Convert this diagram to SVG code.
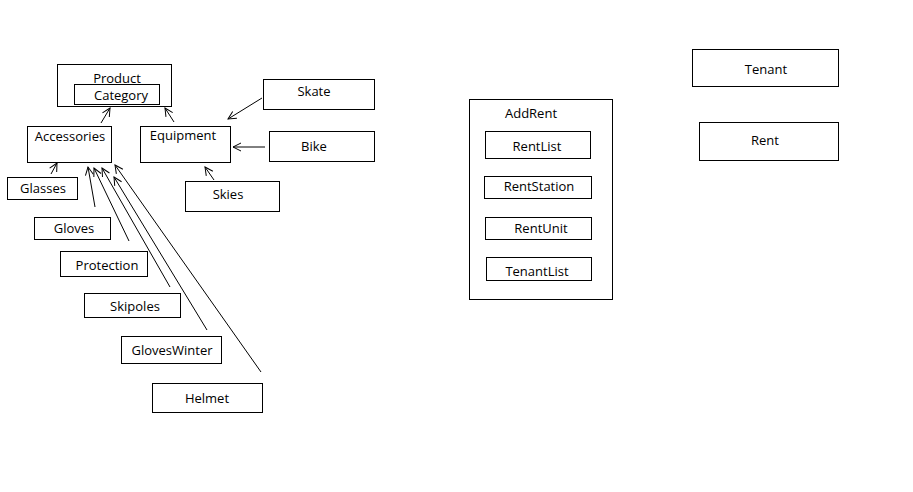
<svg xmlns="http://www.w3.org/2000/svg" width="913" height="492" viewBox="0 0 913 492">
  <style>
    rect { fill: none; stroke: #000; stroke-width: 1; shape-rendering: crispEdges; }
    text { font-family: "Open Sans", "Noto Sans", "DejaVu Sans", sans-serif; font-size: 13px; fill: #000; text-anchor: middle; }
    .edge { stroke: #000; stroke-width: 1; fill: none; marker-end: url(#open); }
  </style>
  <defs>
    <marker id="open" viewBox="-10 -6 12 12" markerWidth="12" markerHeight="12" refX="0" refY="0" orient="auto" markerUnits="userSpaceOnUse">
      <path d="M -8 -4 L 0 0 L -8 4" fill="none" stroke="#000" stroke-width="1"/>
    </marker>
  </defs>
  <rect x="0" y="0" width="913" height="492" style="fill:#fff;stroke:none"/>

  <!-- product hierarchy -->
  <g id="product">
    <rect x="57.5" y="64.5" width="114" height="42"/>
    <text x="117" y="83">Product</text>
  </g>
  <g id="category">
    <rect x="74.5" y="84.5" width="85" height="20"/>
    <text x="121" y="100">Category</text>
  </g>
  <g id="accessories">
    <rect x="27.5" y="126.5" width="84" height="36"/>
    <text x="70" y="141">Accessories</text>
  </g>
  <g id="equipment">
    <rect x="140.5" y="126.5" width="90" height="36"/>
    <text x="183" y="140">Equipment</text>
  </g>
  <g id="skate">
    <rect x="263.5" y="79.5" width="111" height="30"/>
    <text x="314" y="96">Skate</text>
  </g>
  <g id="bike">
    <rect x="269.5" y="131.5" width="105" height="30"/>
    <text x="314" y="151">Bike</text>
  </g>
  <g id="skies">
    <rect x="185.5" y="181.5" width="94" height="30"/>
    <text x="228" y="199">Skies</text>
  </g>
  <g id="glasses">
    <rect x="7.5" y="177.5" width="70" height="22"/>
    <text x="43" y="193">Glasses</text>
  </g>
  <g id="gloves">
    <rect x="34.5" y="217.5" width="76" height="22"/>
    <text x="74" y="233">Gloves</text>
  </g>
  <g id="protection">
    <rect x="60.5" y="251.5" width="87" height="25"/>
    <text x="107" y="270">Protection</text>
  </g>
  <g id="skipoles">
    <rect x="84.5" y="293.5" width="96" height="24"/>
    <text x="135" y="311">Skipoles</text>
  </g>
  <g id="gloveswinter">
    <rect x="121.5" y="336.5" width="100" height="27"/>
    <text x="172" y="355">GlovesWinter</text>
  </g>
  <g id="helmet">
    <rect x="152.5" y="383.5" width="110" height="29"/>
    <text x="207" y="403">Helmet</text>
  </g>

  <!-- rental classes -->
  <g id="addrent">
    <rect x="469.5" y="99.5" width="143" height="200"/>
    <text x="531" y="118">AddRent</text>
  </g>
  <g id="rentlist">
    <rect x="485.5" y="131.5" width="105" height="27"/>
    <text x="537" y="151">RentList</text>
  </g>
  <g id="rentstation">
    <rect x="484.5" y="176.5" width="107" height="22"/>
    <text x="539" y="191">RentStation</text>
  </g>
  <g id="rentunit">
    <rect x="485.5" y="217.5" width="106" height="22"/>
    <text x="541" y="233">RentUnit</text>
  </g>
  <g id="tenantlist">
    <rect x="486.5" y="257.5" width="105" height="23"/>
    <text x="537" y="276">TenantList</text>
  </g>
  <g id="tenant">
    <rect x="692.5" y="49.5" width="146" height="37"/>
    <text x="766" y="74">Tenant</text>
  </g>
  <g id="rent">
    <rect x="699.5" y="122.5" width="139" height="38"/>
    <text x="765" y="145">Rent</text>
  </g>

  <!-- inheritance arrows -->
  <g id="connectors">
    <line class="edge" x1="101" y1="123" x2="110" y2="108"/>
    <line class="edge" x1="174" y1="122" x2="165" y2="108"/>
    <line class="edge" x1="262" y1="98" x2="228" y2="119"/>
    <line class="edge" x1="265" y1="147" x2="233" y2="147"/>
    <line class="edge" x1="214" y1="180" x2="205" y2="167"/>
    <line class="edge" x1="51" y1="174" x2="57" y2="163"/>
    <line class="edge" x1="95" y1="207" x2="88" y2="167"/>
    <line class="edge" x1="129" y1="241" x2="94" y2="168"/>
    <line class="edge" x1="170" y1="287" x2="102" y2="168"/>
    <line class="edge" x1="207" y1="330" x2="114" y2="177"/>
    <line class="edge" x1="261" y1="372" x2="115" y2="165"/>
  </g>
</svg>
